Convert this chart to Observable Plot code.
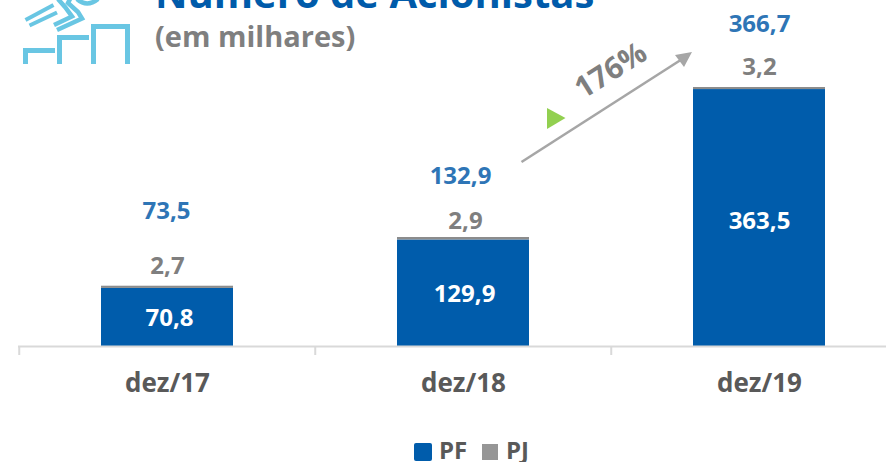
<!DOCTYPE html>
<html><head><meta charset="utf-8">
<script src="https://cdn.jsdelivr.net/npm/d3@7"></script>
<script src="https://cdn.jsdelivr.net/npm/@observablehq/plot@0.6"></script>
<style>
html,body{margin:0;padding:0;background:#fff;}
body{width:886px;height:462px;overflow:hidden;position:relative;font-family:"Open Sans","Noto Sans",sans-serif;font-weight:700;}
#title{position:absolute;left:155px;top:-30px;font-size:40px;line-height:46px;color:#005BAA;white-space:nowrap;}
#sub{position:absolute;left:155px;top:16px;font-size:29px;line-height:40px;color:#7F7F7F;white-space:nowrap;}
#legend{position:absolute;left:414px;top:438px;height:24px;font-size:24px;line-height:24px;color:#595959;}
#legend i{position:absolute;top:5px;width:18px;height:18px;}
#legend span{position:absolute;top:0;}
svg{position:absolute;left:0;top:0;}
</style></head><body>
<div id="chart"></div>
<div id="title">Número de Acionistas</div>
<div id="sub">(em milhares)</div>
<div id="legend"><i style="left:0;background:#005CAB;border-radius:2px"></i><span style="left:25px">PF</span><i style="left:68px;width:16px;height:16px;top:6px;background:#969696"></i><span style="left:92px">PJ</span></div>
<script>
const categories = ["dez/17", "dez/18", "dez/19"];
const pf = [70.8, 129.9, 363.5];
const pj = [2.7, 2.9, 3.2];
const total = [73.5, 132.9, 366.7];
const growth = "176%";
const br = d => d.toFixed(1).replace(".", ",");

const pfRows = categories.map((c, i) => ({c, v0: 0, v1: pf[i], mid: pf[i] / 2, label: br(pf[i])}));
const pjRows = categories.map((c, i) => ({c, v0: pf[i], v1: total[i], label: br(pj[i])}));
const totRows = categories.map((c, i) => ({c, v: total[i], label: br(total[i])}));

const textBase = {x: "c", text: "label", fontWeight: 700, fontSize: 24, lineAnchor: "middle"};

function decoration() {
  const g = d3.create("svg:g");
  g.append("line").attr("x1", 521.5).attr("y1", 162).attr("x2", 683).attr("y2", 58.5)
    .attr("stroke", "#A6A6A6").attr("stroke-width", 2.6);
  g.append("path").attr("d", "M692,52 L675,55 L684,67 Z").attr("fill", "#A6A6A6");
  g.append("path").attr("d", "M547,108 L565.5,118 L547,129 Z").attr("fill", "#92D050");
  g.append("text").attr("transform", "translate(616,79) rotate(-32)")
    .attr("text-anchor", "middle").attr("font-size", 30).attr("font-weight", 700)
    .attr("fill", "#7F7F7F").text(growth);
  const ic = g.append("g").attr("fill", "none").attr("stroke", "#69C6E3").attr("stroke-width", 5);
  ic.append("path").attr("d", "M25.5,64 V50.5 H55");
  ic.append("path").attr("d", "M59.5,64 V37.5 H89");
  ic.append("path").attr("d", "M93.5,64 V26.5 H127.5 V64");
  ic.append("path").attr("d", "M25.5,20 L53.5,5").attr("stroke-width", 4);
  ic.append("path").attr("d", "M29.5,25.5 L57,12.5").attr("stroke-width", 4);
  ic.append("path").attr("d", "M54,25 L72,16.5 L65,7 L58,-1").attr("stroke-width", 4.5);
  ic.append("path").attr("d", "M57,30 L82,18.5 L78,12 L68,3 L70,-1").attr("stroke-width", 4.5);
  ic.append("path").attr("d", "M77,-1 Q87,8 98,-1").attr("stroke-width", 4.5);
  return g.node();
}

const chart = Plot.plot({
  width: 886, height: 462,
  marginTop: 0, marginLeft: 18, marginRight: 0, marginBottom: 116,
  style: {background: "transparent", fontFamily: "'Open Sans','Noto Sans',sans-serif", overflow: "visible"},
  x: {type: "band", domain: categories, range: [18, 907.5], paddingInner: 0.555, paddingOuter: 0.2775, label: null},
  y: {type: "linear", domain: [0, 132.9, 366.7], range: [346, 237, 87], axis: null, label: null},
  marks: [
    Plot.barY(pfRows, {x: "c", y1: "v0", y2: "v1", fill: "#005CAB"}),
    Plot.barY(pjRows, {x: "c", y1: "v0", y2: "v1", fill: "#8C8C8C"}),
    Plot.ruleY([0], {stroke: "#D9D9D9", strokeWidth: 2}),
    Plot.ruleX(categories, {x: d => d, y1: 0, y2: -11, dx: -148.25, stroke: "#D9D9D9", strokeWidth: 2}),
    Plot.axisX({anchor: "bottom", tickSize: 0, tickPadding: 27, fontSize: 26, fontWeight: 700, fill: "#595959", label: null}),
    Plot.text(pfRows.slice(0, 1), {...textBase, y: "mid", fill: "#fff", dy: 1, dx: 2}),
    Plot.text(pfRows.slice(1, 2), {...textBase, y: "mid", fill: "#fff", dy: 1, dx: 1}),
    Plot.text(pfRows.slice(2), {...textBase, y: "mid", fill: "#fff", dy: 15, dx: 0}),
    Plot.text(pjRows.slice(0, 1), {...textBase, y: "v1", fill: "#7F7F7F", dy: -20, dx: 0}),
    Plot.text(pjRows.slice(1, 2), {...textBase, y: "v1", fill: "#7F7F7F", dy: -16, dx: 2}),
    Plot.text(pjRows.slice(2), {...textBase, y: "v1", fill: "#7F7F7F", dy: -20, dx: 0}),
    Plot.text(totRows.slice(0, 1), {...textBase, y: "v", fill: "#2E75B6", dy: -75, dx: -1}),
    Plot.text(totRows.slice(1, 2), {...textBase, y: "v", fill: "#2E75B6", dy: -61, dx: -3}),
    Plot.text(totRows.slice(2), {...textBase, y: "v", fill: "#2E75B6", dy: -63, dx: 0}),
    decoration
  ]
});
document.getElementById("chart").append(chart);
</script>
</body></html>
